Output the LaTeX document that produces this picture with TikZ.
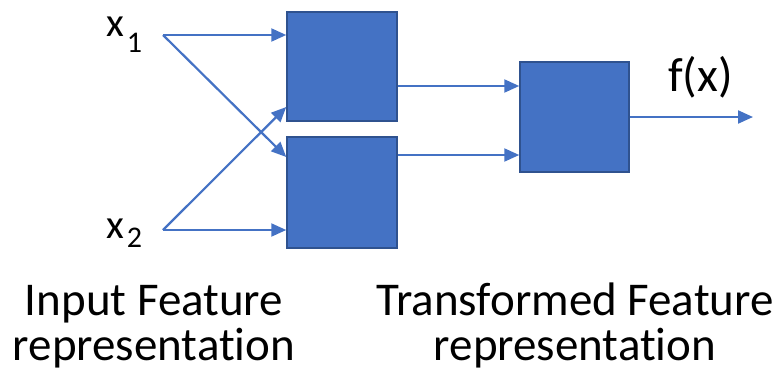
\documentclass[tikz,border=0pt]{standalone}
\usepackage{fontspec}
\setmainfont[Ligatures=NoCommon]{Carlito}
\usetikzlibrary{arrows.meta}
\definecolor{boxfill}{HTML}{4472C4}
\definecolor{boxline}{HTML}{2F528F}
\definecolor{arrowc}{HTML}{4472C4}
\begin{document}
\begin{tikzpicture}[x=1pt,y=-1pt,
  blk/.style={draw=boxline, fill=boxfill, line width=1.5pt, inner sep=0pt},
  conn/.style={draw=arrowc, line width=2.2pt, -{Triangle[length=15pt,width=13pt]}},
  lbl/.style={inner sep=0pt, font=\fontsize{47}{45}\selectfont, align=center}]
\useasboundingbox (0,0) rectangle (782,378);
% boxes
\node[blk, minimum width=110pt, minimum height=109pt] (b1) at (342,66.5) {};
\node[blk, minimum width=110pt, minimum height=111pt] (b2) at (342,192.5) {};
\node[blk, minimum width=109pt, minimum height=110pt] (b3) at (574.5,117) {};
% inputs
\coordinate (in1) at (163,35);
\coordinate (in2) at (163,230);
\coordinate (out) at (753,117);
\node[inner sep=0pt, anchor=base west, font=\fontsize{41}{41}\selectfont] (x1) at (106,36) {x\kern3pt\raisebox{-16pt}{\fontsize{30}{30}\selectfont 1}};
\node[inner sep=0pt, anchor=base west, font=\fontsize{41}{41}\selectfont] (x2) at (106,238) {x\kern3pt\raisebox{-9pt}{\fontsize{30}{30}\selectfont 2}};
\node[inner sep=0pt, anchor=base west, font=\fontsize{48}{48}\selectfont] (fx) at (668,91) {f(x)};
% connectors
\draw[conn] (in1) -- (b1.west |- in1);
\draw[conn] (in1) -- (b1.west |- 0,157);
\draw[conn] (in2) -- (b1.west |- 0,107);
\draw[conn] (in2) -- (b2.west |- in2);
\draw[conn] (b1.east |- 0,86) -- (b3.west |- 0,86);
\draw[conn] (b2.east |- 0,155) -- (b3.west |- 0,155);
\draw[conn] (b3.east |- out) -- (out);
% captions
\node[lbl, anchor=base] (cap1) at (154,360) {Input Feature\\representation};
\node[lbl, anchor=base] (cap2) at (575,360) {Transformed Feature\\representation};
\end{tikzpicture}
\end{document}
